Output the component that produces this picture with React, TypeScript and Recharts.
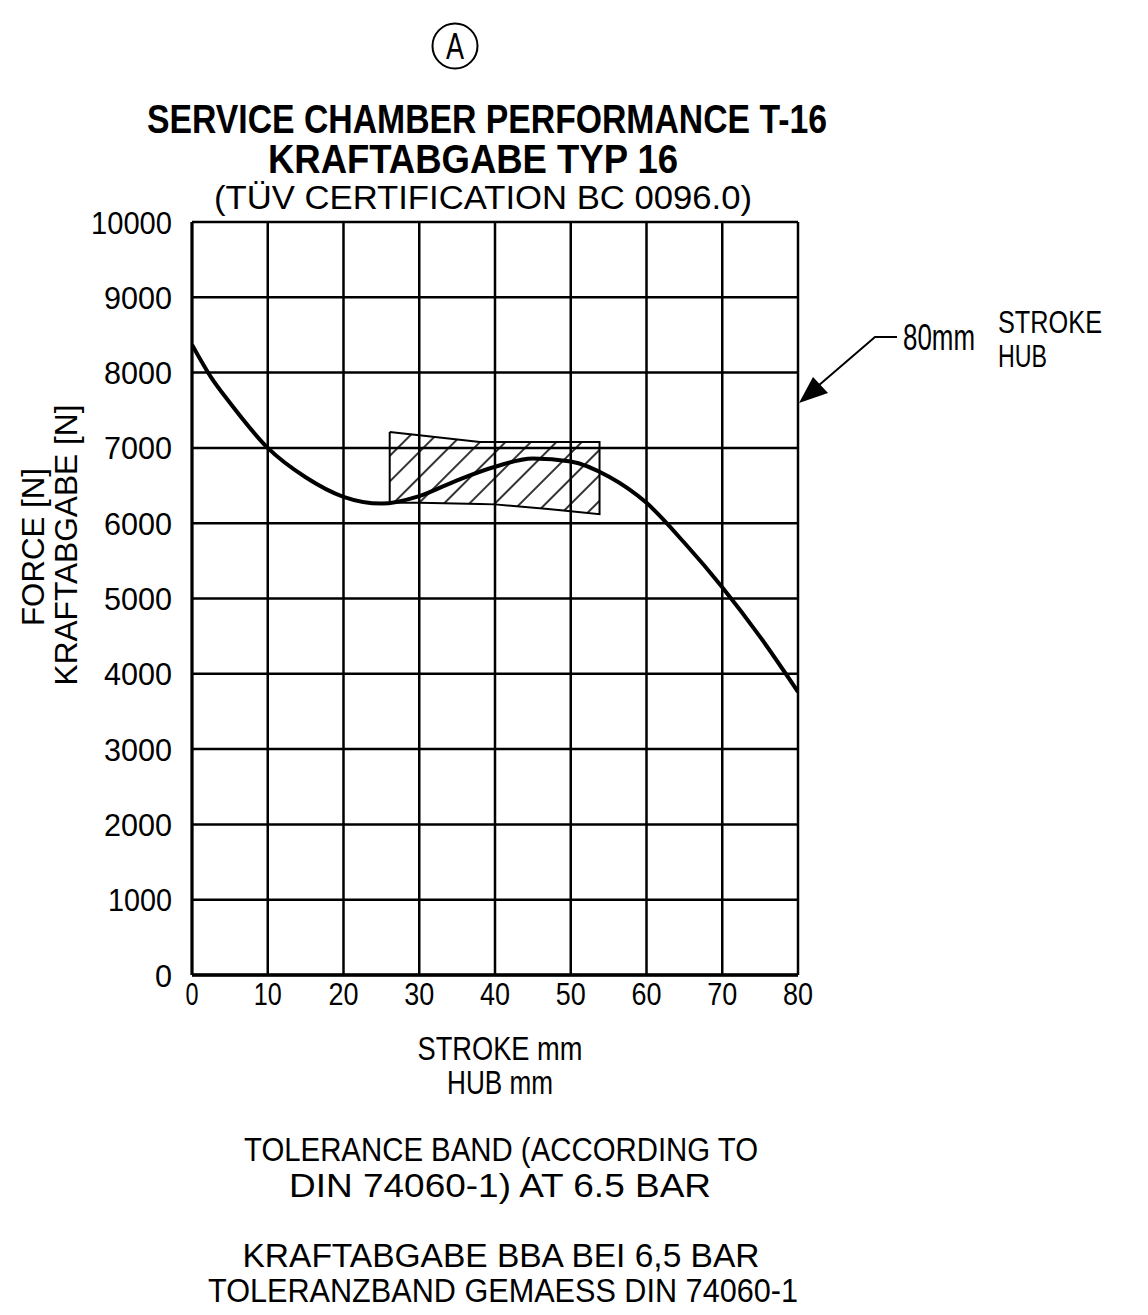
import React from 'react';
import { ComposedChart, Line, Area, XAxis, YAxis, CartesianGrid } from 'recharts';

// Main performance curve: stroke (mm) vs force (N)
const strokeMm = [0, 2.5, 5, 10, 15, 20, 25, 30, 35, 40, 45, 50, 55, 60, 65, 70, 75, 80];
const forceN = [8370, 7940, 7600, 7000, 6610, 6350, 6260, 6360, 6570, 6750, 6860, 6820, 6620, 6270, 5740, 5150, 4490, 3760];

// Tolerance band (DIN 74060-1 at 6.5 bar)
const bandMm = [26.1, 30, 38, 40, 47, 53.8];
const bandUpper = [7210, 7167, 7080, 7080, 7080, 7080];
const bandLower = [6270, 6270, 6255, 6250, 6190, 6120];

const xTicks = [0, 10, 20, 30, 40, 50, 60, 70, 80];
const yTicks = [0, 1000, 2000, 3000, 4000, 5000, 6000, 7000, 8000, 9000, 10000];

const curveData = strokeMm.map((x, i) => ({ x, y: forceN[i] }));
const bandData = bandMm.map((x, i) => ({ x, range: [bandLower[i], bandUpper[i]] }));
const bandOutline = [
  ...bandMm.map((x, i) => ({ x, y: bandUpper[i] })),
  ...bandMm.map((x, i) => ({ x, y: bandLower[i] })).reverse(),
  { x: bandMm[0], y: bandUpper[0] },
];

const FONT = "'Liberation Sans', 'DejaVu Sans', sans-serif";

const tickWidth = (s: string, per: number, one: number) =>
  s.split('').reduce((a, c) => a + (c === '1' ? one : per), 0);

const YTick = (props: any) => {
  const s = String(props.payload.value);
  return (
    <text
      x={props.x}
      y={props.y + 11.5}
      textAnchor="end"
      fontSize={32}
      fontFamily={FONT}
      fill="#000"
      textLength={tickWidth(s, 17, 13)}
      lengthAdjust="spacingAndGlyphs"
    >
      {s}
    </text>
  );
};

const XTick = (props: any) => {
  const s = String(props.payload.value);
  return (
    <text
      x={props.x}
      y={props.y + 22}
      textAnchor="middle"
      fontSize={31}
      fontFamily={FONT}
      fill="#000"
      textLength={s.length === 1 ? 13 : tickWidth(s, 15, 13)}
      lengthAdjust="spacingAndGlyphs"
    >
      {s}
    </text>
  );
};

const T = ({ cx, y, w, size, bold, children, transform }: any) => (
  <text
    x={cx}
    y={y}
    textAnchor="middle"
    fontSize={size}
    fontWeight={bold ? 700 : 400}
    fontFamily={FONT}
    fill="#000"
    textLength={w}
    lengthAdjust="spacingAndGlyphs"
    transform={transform}
  >
    {children}
  </text>
);

export default function App() {
  return (
    <div style={{ position: 'absolute', left: 0, top: 0, width: 1148, height: 1315, background: '#fff' }}>
      <ComposedChart
        width={1148}
        height={1315}
        margin={{ top: 222, right: 350, bottom: 300, left: 132 }}
      >
        <defs>
          <pattern id="hatch" patternUnits="userSpaceOnUse" width="18" height="18" patternTransform="rotate(45)">
            <line x1="4" y1="0" x2="4" y2="18" stroke="#000" strokeWidth="1.6" />
          </pattern>
        </defs>
        <CartesianGrid stroke="#000" strokeWidth={2.5} strokeOpacity={1} />
        <XAxis
          type="number"
          dataKey="x"
          domain={[0, 80]}
          ticks={xTicks}
          height={40}
          tickSize={0}
          tickMargin={8}
          tick={<XTick />}
          axisLine={{ stroke: '#000', strokeWidth: 3.5 }}
          tickLine={false}
          allowDataOverflow
        />
        <YAxis
          type="number"
          domain={[0, 10000]}
          ticks={yTicks}
          width={60}
          tickSize={0}
          tickMargin={20}
          tick={<YTick />}
          axisLine={{ stroke: '#000', strokeWidth: 3 }}
          tickLine={false}
          allowDataOverflow
        />
        <Area
          data={bandData}
          dataKey="range"
          type="linear"
          fill="url(#hatch)"
          fillOpacity={1}
          stroke="none"
          isAnimationActive={false}
          activeDot={false}
          dot={false}
        />
        <Line
          data={bandOutline}
          dataKey="y"
          type="linear"
          stroke="#000"
          strokeWidth={2}
          dot={false}
          activeDot={false}
          isAnimationActive={false}
        />
        <Line
          data={curveData}
          dataKey="y"
          type="monotone"
          stroke="#000"
          strokeWidth={4}
          dot={false}
          activeDot={false}
          isAnimationActive={false}
        />
      </ComposedChart>
      <svg
        width={1148}
        height={1315}
        style={{ position: 'absolute', left: 0, top: 0, pointerEvents: 'none' }}
      >
        {/* Circle A */}
        <circle cx={455} cy={46} r={22.5} fill="none" stroke="#000" strokeWidth={2} />
        <T cx={455} y={59} w={18} size={36}>A</T>

        {/* Titles */}
        <T cx={487} y={133} w={680} size={40} bold>SERVICE CHAMBER PERFORMANCE T-16</T>
        <T cx={473} y={173} w={410} size={40} bold>KRAFTABGABE TYP 16</T>
        <T cx={483} y={209} w={538} size={33}>(TÜV CERTIFICATION BC 0096.0)</T>

        {/* Y axis label */}
        <T cx={0} y={0} w={158} size={32} transform="translate(44,547) rotate(-90)">FORCE [N]</T>
        <T cx={0} y={0} w={281} size={32} transform="translate(77,545) rotate(-90)">KRAFTABGABE [N]</T>

        {/* X axis label */}
        <T cx={500} y={1060} w={165} size={33}>STROKE mm</T>
        <T cx={500} y={1094} w={106} size={33}>HUB mm</T>

        {/* 80mm stroke annotation */}
        <polyline points="897,337 875,337 818,386" fill="none" stroke="#000" strokeWidth={2} />
        <polygon points="799,403 813,377 828,393" fill="#000" />
        <text x={903} y={350} fontSize={36} fontFamily={FONT} fill="#000" textLength={72} lengthAdjust="spacingAndGlyphs">80mm</text>
        <text x={998} y={333} fontSize={32} fontFamily={FONT} fill="#000" textLength={104} lengthAdjust="spacingAndGlyphs">STROKE</text>
        <text x={998} y={367} fontSize={32} fontFamily={FONT} fill="#000" textLength={49} lengthAdjust="spacingAndGlyphs">HUB</text>

        {/* Notes */}
        <T cx={501} y={1161} w={514} size={33}>TOLERANCE BAND (ACCORDING TO</T>
        <T cx={500} y={1197} w={422} size={33}>DIN 74060-1) AT 6.5 BAR</T>
        <T cx={501} y={1267} w={517} size={33}>KRAFTABGABE BBA BEI 6,5 BAR</T>
        <T cx={503} y={1302} w={590} size={33}>TOLERANZBAND GEMAESS DIN 74060-1</T>
      </svg>
    </div>
  );
}
